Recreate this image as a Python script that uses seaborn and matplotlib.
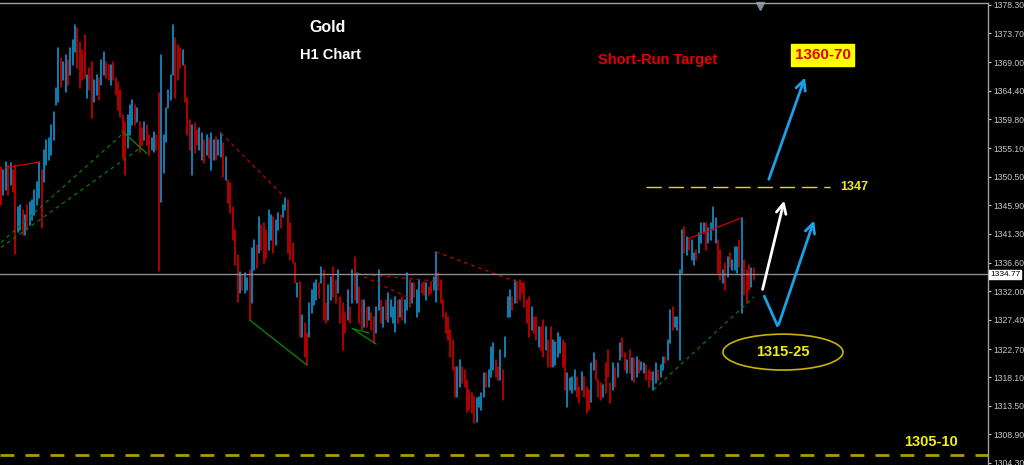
import matplotlib
matplotlib.use("Agg")
import matplotlib.pyplot as plt
import matplotlib.transforms as mtransforms
from matplotlib.patches import Ellipse
import pandas as pd
import seaborn as sns

# Gold H1 bars (high / low), read left to right in four runs
high_a = [1352.1, 1351.6, 1352.9, 1352.4, 1352.8, 1351.6, 1352.4, 1345.6, 1346.0, 1345.2,
          1344.4, 1346.0, 1346.5, 1346.8, 1348.4, 1349.7, 1352.9, 1351.6, 1354.9, 1356.5,
          1356.8, 1358.9, 1361.0, 1364.9, 1371.3, 1369.7, 1369.1, 1370.2, 1369.4, 1371.3,
          1372.6, 1375.1, 1374.6, 1372.3, 1371.0, 1373.4, 1367.0, 1368.1, 1369.1, 1366.2,
          1367.0, 1366.5, 1369.4, 1370.7, 1369.1, 1368.6, 1368.6, 1369.1, 1366.5, 1365.8,
          1364.6, 1360.5, 1359.4, 1360.5, 1362.1, 1362.9, 1362.1, 1361.6, 1359.4, 1358.4,
          1359.4, 1358.9, 1357.3, 1356.8, 1357.8, 1357.3, 1364.1, 1370.2, 1357.3, 1361.6,
          1364.6, 1367.0, 1375.1, 1373.0, 1371.8, 1371.3, 1371.0, 1368.6, 1363.3]
low_a = [1346.0, 1347.6, 1348.4, 1347.6, 1349.2, 1348.1, 1338.1, 1341.6, 1341.9, 1341.1,
         1341.1, 1341.9, 1342.8, 1343.6, 1344.4, 1346.0, 1347.1, 1342.3, 1349.7, 1352.4,
         1353.2, 1354.1, 1356.5, 1362.1, 1362.6, 1365.0, 1366.2, 1364.2, 1365.4, 1367.0,
         1368.6, 1370.7, 1368.1, 1364.9, 1366.2, 1366.5, 1363.3, 1364.6, 1360.0, 1362.6,
         1363.7, 1362.9, 1365.4, 1367.0, 1366.5, 1366.2, 1365.4, 1366.2, 1363.7, 1361.3,
         1360.2, 1353.6, 1350.8, 1355.2, 1357.3, 1358.9, 1358.9, 1359.4, 1354.5, 1355.7,
         1356.5, 1355.7, 1354.1, 1354.9, 1354.5, 1354.9, 1335.3, 1346.5, 1351.1, 1356.1,
         1361.6, 1362.9, 1367.0, 1363.3, 1366.2, 1368.1, 1368.6, 1362.6, 1357.3]
dir_a = "DUUDUDDUUD" "UDUUUUUDUU" "UUUUUDUUDU" "UUDDDDUDDU" "UDUUDDUDDD" "DDDUUUDUDD" "UDDUUDDUUU" "UUUDDDUDD"

high_b = [1359.7, 1358.9, 1359.2, 1358.1, 1358.4, 1357.6, 1356.5, 1357.3, 1356.8, 1357.6,
          1356.5, 1357.0, 1356.5, 1357.6, 1356.0, 1353.7, 1350.0, 1349.5, 1345.6, 1341.9,
          1337.9, 1335.1, 1334.7, 1335.0, 1334.2, 1335.5, 1339.0, 1340.3, 1339.5, 1344.0,
          1342.7, 1343.1, 1341.9, 1345.2, 1344.4, 1344.0, 1343.6, 1344.7, 1344.4, 1346.0,
          1347.1, 1346.8, 1343.1, 1339.8, 1336.6, 1333.4, 1333.5, 1328.2, 1326.9, 1325.3,
          1330.1, 1332.2, 1333.4, 1333.9, 1333.4, 1336.0, 1335.5, 1330.1, 1333.0, 1334.3,
          1336.0, 1333.9, 1335.5, 1331.1, 1330.1, 1328.5, 1332.2, 1329.5, 1335.5, 1337.6]
low_b = [1354.9, 1350.8, 1354.4, 1355.7, 1354.9, 1353.2, 1352.8, 1354.1, 1353.6, 1351.6,
         1353.2, 1353.2, 1354.1, 1353.7, 1350.5, 1350.0, 1346.3, 1344.7, 1340.3, 1336.3,
         1330.3, 1331.8, 1332.2, 1331.8, 1332.2, 1327.4, 1330.1, 1335.5, 1335.8, 1338.2,
         1338.7, 1336.6, 1337.4, 1338.7, 1340.3, 1338.2, 1339.5, 1341.9, 1342.3, 1344.0,
         1345.2, 1338.2, 1337.1, 1336.6, 1333.4, 1331.1, 1324.6, 1324.6, 1321.4, 1320.1,
         1324.6, 1328.5, 1329.8, 1330.6, 1330.9, 1333.4, 1327.4, 1326.9, 1327.4, 1330.6,
         1331.1, 1330.1, 1331.8, 1326.9, 1322.5, 1325.3, 1327.4, 1326.9, 1330.1, 1330.6]
dir_b = "DUDDUUDUDU" "UDUUDUDDDD" "DUDUUDUUDU" "DDDUUDUUDU" "UDDDDUDUDD" "UUUUDUDDUU" "DDUDDDUDUD"

high_c = [1335.0, 1332.7, 1330.6, 1330.6, 1329.5, 1329.5, 1328.5, 1327.9, 1329.5, 1335.5,
          1330.6, 1329.5, 1330.6, 1331.7, 1330.6, 1329.5, 1331.1, 1330.6, 1330.6, 1331.1,
          1330.6, 1335.0, 1333.9, 1333.4, 1333.4, 1332.2, 1333.9, 1333.4, 1333.5, 1333.4,
          1332.7, 1333.5, 1334.3, 1338.4, 1335.0, 1333.9, 1330.6, 1328.5, 1327.9, 1325.8,
          1324.2, 1319.8, 1319.8, 1320.9, 1319.8, 1319.3, 1317.7, 1316.1, 1315.6, 1314.9,
          1314.8, 1314.9, 1315.6, 1318.8, 1318.8, 1319.3, 1323.0, 1323.7, 1320.9, 1319.8,
          1322.5, 1319.3, 1324.6, 1331.1, 1332.2, 1331.1, 1333.9, 1333.5, 1333.9, 1333.4,
          1333.4, 1330.6, 1331.1, 1329.5, 1327.9, 1327.9, 1326.3, 1326.3, 1327.4, 1326.3,
          1324.2]
low_c = [1330.1, 1326.9, 1325.8, 1326.3, 1326.3, 1327.4, 1325.8, 1323.7, 1325.3, 1329.0,
         1326.9, 1326.3, 1327.4, 1327.1, 1327.9, 1326.9, 1325.5, 1326.9, 1327.9, 1327.4,
         1326.9, 1329.0, 1329.5, 1330.1, 1331.1, 1327.9, 1328.7, 1331.8, 1331.4, 1330.6,
         1331.4, 1331.8, 1332.2, 1330.3, 1332.2, 1330.1, 1327.9, 1325.3, 1324.2, 1321.4,
         1319.3, 1315.0, 1315.0, 1316.6, 1317.2, 1316.6, 1312.5, 1312.8, 1312.4, 1310.7,
         1310.9, 1313.3, 1312.8, 1315.0, 1316.6, 1316.6, 1318.2, 1319.3, 1318.2, 1317.7,
         1317.7, 1314.5, 1321.4, 1327.9, 1327.9, 1329.0, 1330.1, 1330.1, 1330.6, 1331.8,
         1329.5, 1326.9, 1324.6, 1325.8, 1325.3, 1324.2, 1323.0, 1322.5, 1321.4, 1322.5,
         1319.8]
dir_c = "UDDUDUDDUU" "DUDUUUUDUD" "UUDUDUUDDU" "DDUUDDDDDD" "DDUUDDDDDD" "UUUUDUUUDD" "UDUUUDUDDD" "DDDUDDUDDU" "D"

high_d = [1326.3, 1324.2, 1323.8, 1325.3, 1324.6, 1324.2, 1323.7, 1318.8, 1318.0, 1318.2,
          1319.3, 1318.2, 1316.6, 1319.0, 1318.2, 1316.6, 1316.1, 1320.4, 1322.1, 1320.9,
          1317.7, 1317.2, 1316.9, 1320.4, 1322.5, 1317.2, 1320.4, 1319.6, 1320.4, 1323.7,
          1324.5, 1322.1, 1320.9, 1322.5, 1321.3, 1321.3, 1321.4, 1320.9, 1320.6, 1320.4,
          1320.1, 1319.3, 1319.0, 1319.0, 1320.4, 1319.3, 1320.1, 1321.4, 1321.4, 1324.2,
          1329.0, 1329.5, 1327.9, 1327.9, 1335.5, 1341.9, 1342.4, 1340.8, 1340.6, 1340.3,
          1338.2, 1338.7, 1341.5, 1343.1, 1343.1, 1343.1, 1342.3, 1343.1, 1345.6, 1343.9,
          1340.3, 1338.7, 1335.5, 1336.6, 1337.6, 1338.2, 1337.1, 1339.2, 1339.2, 1340.3,
          1343.9, 1337.1, 1335.5, 1336.3, 1335.8, 1335.8]
low_d = [1319.8, 1319.8, 1320.1, 1321.4, 1322.1, 1319.8, 1316.1, 1313.3, 1316.1, 1315.6,
         1316.1, 1315.0, 1314.0, 1316.1, 1315.0, 1312.4, 1312.8, 1314.1, 1319.3, 1317.7,
         1315.0, 1314.5, 1315.0, 1315.6, 1318.2, 1314.0, 1316.1, 1316.6, 1318.2, 1320.9,
         1321.4, 1319.3, 1318.8, 1318.8, 1317.7, 1317.4, 1318.2, 1318.8, 1319.3, 1318.8,
         1317.7, 1316.6, 1317.7, 1316.1, 1317.2, 1317.7, 1318.2, 1319.3, 1320.4, 1320.9,
         1323.7, 1325.8, 1326.3, 1325.8, 1320.9, 1335.0, 1338.2, 1337.9, 1338.7, 1337.1,
         1336.3, 1337.1, 1338.2, 1339.8, 1341.5, 1338.7, 1339.8, 1340.3, 1341.9, 1339.8,
         1335.0, 1333.9, 1333.4, 1332.2, 1334.3, 1336.0, 1335.5, 1335.5, 1335.0, 1336.0,
         1328.5, 1331.4, 1330.1, 1332.2, 1332.7, 1333.9]
dir_d = "DUUUUDDUUU" "UDDUDDDUUD" "DDUDDDUDUU" "DDUDUDUDUU" "DDDUUDUUDU" "UDUUUUDUDU" "UDUUUDUUUU" "DDUDUDUUUD" "UDDDUD"

last_price = 1334.77
resistance = 1348.9      # drawn "1347" line
bottom_zone = 1305.6     # "1305-10" line

tick_labels = ["1378.30", "1373.70", "1369.00", "1364.40", "1359.80", "1355.10",
               "1350.50", "1345.90", "1341.30", "1336.60", "1332.00", "1327.40",
               "1322.70", "1318.10", "1313.50", "1308.90", "1304.30"]

# trendlines (bar, price) drawn on the chart
red_dashed = [[(92, 1357.6), (119, 1347.1)],
              [(149, 1334.9), (181, 1333.7)],
              [(149, 1334.9), (170, 1331.1)],
              [(182, 1338.4), (216, 1333.5)]]
red_solid = [[(2, 1352.0), (16, 1352.9)],
             [(288, 1340.6), (310, 1343.9)]]
green_dashed = [[(0, 1339.9), (51, 1357.5)],
                [(0, 1339.1), (58, 1355.1)],
                [(273, 1316.1), (315, 1331.1)]]
green_solid = [[(51, 1357.8), (61, 1354.3)],
               [(104, 1327.4), (128, 1320.1)],
               [(147, 1326.0), (154, 1325.3)],
               [(147, 1326.0), (157, 1323.5)]]

high = high_a + high_b + high_c + high_d
low = low_a + low_b + low_c + low_d
direction = list(dir_a + dir_b + dir_c + dir_d)

bars = pd.DataFrame({"bar": range(len(high)), "high": high, "low": low,
                     "direction": direction})
long_df = bars.melt(id_vars=["bar", "direction"], value_vars=["high", "low"],
                    value_name="price")

sns.set_style("dark")
plt.rcParams["font.family"] = ["Liberation Sans", "DejaVu Sans"]

fig = plt.figure(figsize=(10.24, 4.65), dpi=100, facecolor="black")
ax = fig.add_axes([0, 0, 988 / 1024, 462 / 465])
ax.set_facecolor("black")

BLUE = "#1499d8"
RED = "#d80000"
sns.lineplot(data=long_df, x="bar", y="price", hue="direction", units="bar",
             estimator=None, sort=False, palette={"U": BLUE, "D": RED},
             legend=False, lw=1.15, ax=ax)

for seg in red_dashed:
    (x0, y0), (x1, y1) = seg
    ax.plot([x0, x1], [y0, y1], color="#c00000", lw=0.9, ls=(0, (3, 3)))
for seg in red_solid:
    (x0, y0), (x1, y1) = seg
    ax.plot([x0, x1], [y0, y1], color="#d00000", lw=0.9)
for seg in green_dashed:
    (x0, y0), (x1, y1) = seg
    ax.plot([x0, x1], [y0, y1], color="#0a7a0a", lw=0.9, ls=(0, (3, 3)))
for seg in green_solid:
    (x0, y0), (x1, y1) = seg
    ax.plot([x0, x1], [y0, y1], color="#0a8a0a", lw=0.9)

# current price line
ax.axhline(last_price, color="#8c8c8c", lw=1.0)
trans = mtransforms.blended_transform_factory(ax.transAxes, ax.transData)
ax.text(1.002, last_price, f"{last_price:.2f}", transform=trans, ha="left",
        va="center", fontsize=6.0, color="black",
        bbox=dict(fc="white", ec="white", pad=0.8), clip_on=False)

# level lines
ax.plot([270, 347], [resistance, resistance], color="#e0e000", lw=1.0,
        ls=(0, (11, 5)))
ax.text(351, resistance, "1347", color="#f0f000", fontsize=9, fontweight="bold",
        va="center", ha="left")
ax.axhline(bottom_zone, color="#a89c00", lw=2.0, ls=(0, (5, 4)))
ax.text(400.5, 1307.6, "1305-10", color="#f0f000", fontsize=10.5,
        fontweight="bold", ha="right", va="center")

# titles
ax.text(136.8, 1374.6, "Gold", color="white", fontsize=11.5, fontweight="bold",
        ha="center", va="center")
ax.text(137.7, 1370.2, "H1 Chart", color="white", fontsize=10.5,
        fontweight="bold", ha="center", va="center")
ax.text(274.9, 1369.4, "Short-Run Target", color="#e60000", fontsize=10.5,
        fontweight="bold", ha="center", va="center")
ax.text(343.9, 1370.2, "1360-70", color="#e00000", fontsize=11,
        fontweight="bold", ha="center", va="center",
        bbox=dict(fc="#ffff00", ec="#ffff00", pad=2.6))

# projection arrows
head = "->,head_length=0.7,head_width=0.35"
ax.annotate("", xy=(336.8, 1367.0), xytext=(320.9, 1349.7),
            arrowprops=dict(arrowstyle=head, color="#1aa0e6", lw=2.0))
ax.annotate("", xy=(328.0, 1347.1), xytext=(318.4, 1331.9),
            arrowprops=dict(arrowstyle=head, color="white", lw=2.0))
ax.plot([319.2, 325.1], [1331.4, 1326.3], color="#1aa0e6", lw=2.0,
        solid_capstyle="butt")
ax.annotate("", xy=(340.6, 1343.9), xytext=(325.1, 1326.3),
            arrowprops=dict(arrowstyle=head, color="#1aa0e6", lw=2.0))

ax.add_patch(Ellipse((327.2, 1322.2), 50.2, 5.8, fill=False, ec="#c8b400",
                     lw=1.2))
ax.text(327.2, 1322.2, "1315-25", color="#f0f000", fontsize=10.5,
        fontweight="bold", ha="center", va="center")

# chart-shift marker
ax.plot(317.6, 1378.1, marker="v", color="#7f8c99", ms=6, clip_on=False)

ax.set_xlim(-0.42, 413.0)
ax.set_ylim(1303.96, 1378.6)
ax.set_xlabel("")
ax.set_ylabel("")
ax.set_xticks([])
ax.set_yticks([float(t) for t in tick_labels])
ax.set_yticklabels(tick_labels)
ax.yaxis.tick_right()
ax.tick_params(axis="y", colors="#c8c8c8", labelsize=6.2, length=2.5, width=0.8,
               direction="out", pad=1.5)
ax.grid(False)
for side in ["left", "bottom"]:
    ax.spines[side].set_visible(False)
for side in ["right", "top"]:
    ax.spines[side].set_visible(True)
    ax.spines[side].set_color("#a0a0a0")
    ax.spines[side].set_linewidth(1.0)

fig.savefig("out.png", dpi=100, facecolor="black")
